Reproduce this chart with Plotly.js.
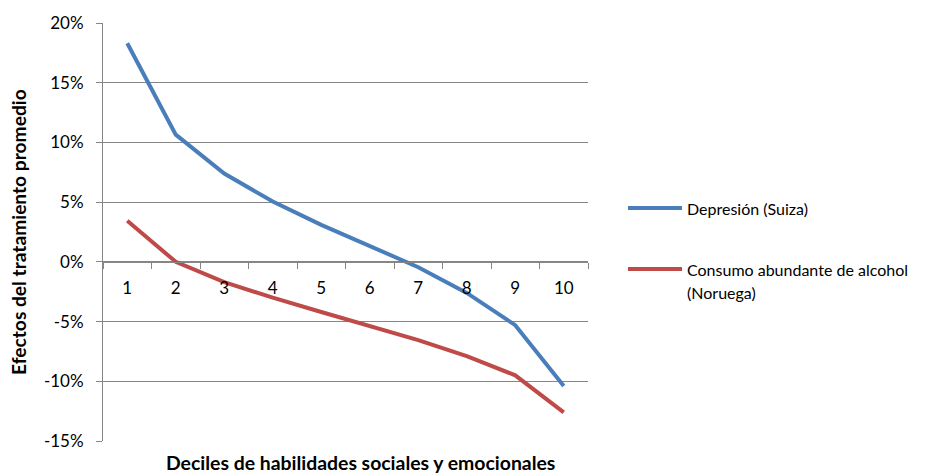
<!DOCTYPE html>
<html><head><meta charset="utf-8">
<script src="https://cdn.plot.ly/plotly-3.0.1.min.js"></script>
<style>html,body{margin:0;padding:0;background:#fff}#chart{width:927px;height:473px}</style>
</head><body><div id="chart"></div>
<script>
const deciles = ['1','2','3','4','5','6','7','8','9','10'];
const depresionSuiza = [18.3, 10.65, 7.4, 5.05, 3.1, 1.3, -0.45, -2.6, -5.3, -10.4];
const alcoholNoruega = [3.45, 0.0, -1.7, -3.0, -4.2, -5.35, -6.55, -7.9, -9.5, -12.6];
const seriesNames = ['Depresión (Suiza)', 'Consumo abundante de alcohol', '(Noruega)'];
const yTicks = [-15, -10, -5, 0, 5, 10, 15, 20];
const yTickText = yTicks.map(v => v + '%');

const FONT = 'Lato, "Open Sans", sans-serif';
const GRID = '#868686';
const BLUE = '#4A7EBB', RED = '#BE4B48';

const W = 927, H = 473, ML = 103, MR = 339, MT = 23, MB = 32;
const PW = W - ML - MR, PH = H - MT - MB;
const px = x => (x - ML) / PW;
const py = y => (H - MB - y) / PH;

const traces = [
  {x: deciles, y: depresionSuiza, type: 'scatter', mode: 'lines', name: seriesNames[0],
   line: {color: BLUE, width: 4}},
  {x: deciles, y: alcoholNoruega, type: 'scatter', mode: 'lines', name: seriesNames[1] + ' ' + seriesNames[2],
   line: {color: RED, width: 4}}
];

const legendShapes = [
  {type: 'line', xref: 'paper', yref: 'paper', x0: px(628), x1: px(682), y0: py(208), y1: py(208),
   line: {color: BLUE, width: 4}},
  {type: 'line', xref: 'paper', yref: 'paper', x0: px(628), x1: px(682), y0: py(269), y1: py(269),
   line: {color: RED, width: 4}}
];
const legAnn = (text, y) => ({text: text, xref: 'paper', yref: 'paper', x: px(685), y: py(y),
  xanchor: 'left', yanchor: 'middle', showarrow: false, font: {size: 16}});

const layout = {
  width: W, height: H,
  margin: {l: ML, r: MR, t: MT, b: MB},
  paper_bgcolor: '#fff', plot_bgcolor: '#fff',
  font: {family: FONT, size: 17, color: '#000'},
  showlegend: false,
  xaxis: {type: 'category', range: [-0.5, 9.5], anchor: 'free', position: 15/35,
          showline: true, linecolor: GRID, linewidth: 1, showgrid: false,
          ticks: 'outside', tickson: 'boundaries', ticklen: 6, tickcolor: GRID,
          ticklabelstandoff: 11, tickfont: {size: 17}, fixedrange: true},
  yaxis: {range: [-15, 20], tickvals: yTicks, ticktext: yTickText,
          showgrid: true, gridcolor: GRID, gridwidth: 1, zeroline: false,
          showline: true, linecolor: GRID, linewidth: 1,
          ticks: 'outside', ticklen: 6, tickcolor: GRID, tickfont: {size: 17},
          ticklabelstandoff: 9},
  shapes: legendShapes,
  annotations: [
    {text: '<b>Deciles de habilidades sociales y emocionales</b>', xref: 'paper', yref: 'paper',
     x: px(360), y: 0, xanchor: 'center', yanchor: 'middle', yshift: -21, showarrow: false, font: {size: 19.4}},
    {text: '<b>Efectos del tratamiento promedio</b>', xref: 'paper', yref: 'paper', textangle: -90,
     x: 0, y: py(232), xanchor: 'center', yanchor: 'middle', xshift: -85, showarrow: false, font: {size: 19.2}},
    legAnn(seriesNames[0], 208),
    legAnn(seriesNames[1], 269),
    legAnn(seriesNames[2], 292)
  ]
};
Plotly.newPlot('chart', traces, layout, {displayModeBar: false, staticPlot: true});
</script></body></html>
